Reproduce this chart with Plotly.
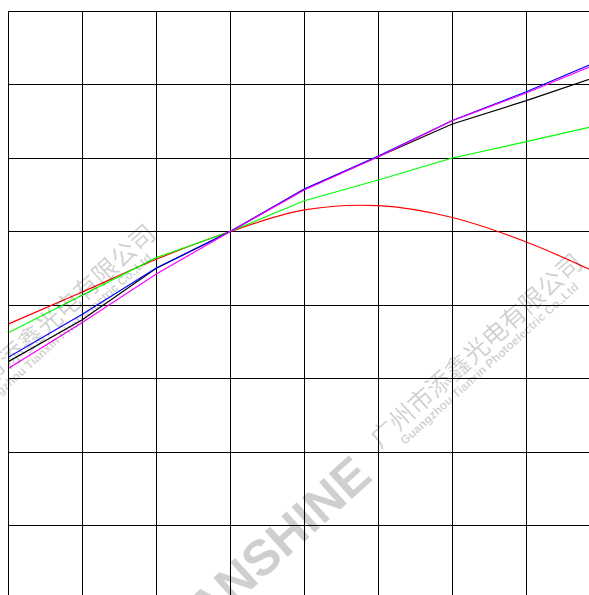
import plotly.graph_objects as go

# grid positions (one unit per grid cell)
x_vals = [0, 1, 2, 3, 4, 5, 6, 7, 8]

red_vals = [3.741, 4.177, 4.622, 5.0, 5.293, 5.351, 5.190, 4.857, 4.417]
green_vals = [3.623, 4.129, 4.644, 5.0, 5.419, 5.701, 6.0, 6.222, 6.453]
black_vals = [3.229, 3.800, 4.499, 5.0, 5.574, 6.018, 6.463, 6.780, 7.122]
blue_vals = [3.288, 3.874, 4.503, 5.0, 5.578, 6.027, 6.510, 6.902, 7.330]
magenta_vals = [3.136, 3.762, 4.422, 5.0, 5.565, 6.018, 6.506, 6.884, 7.300]

W, H = 589, 595
ML, MT = 9, 12    # figure margins (axis lines sit just outside the plot area)
cell_x, cell_y = 74.0, 73.5
grid_x0, grid_y0 = 8.3, 11.0   # page pixel of unit x=0 and unit y=8

plot_left = ML
plot_top = MT
pw, ph = W - ML, H - MT
x0 = (plot_left - grid_x0) / cell_x
y1 = 8 - (plot_top - grid_y0) / cell_y

fig = go.Figure()
series = [
    (red_vals, "#ff0000", "spline"),
    (green_vals, "#00ff00", "linear"),
    (black_vals, "#000000", "linear"),
    (blue_vals, "#0000ff", "linear"),
    (magenta_vals, "#ff00ff", "linear"),
]
for vals, col, shape in series:
    fig.add_trace(go.Scatter(x=x_vals, y=vals, mode="lines",
                             line=dict(color=col, width=1.2, shape=shape),
                             showlegend=False, hoverinfo="skip"))


def px(xp, yp):
    return (xp - plot_left) / pw, 1 - (yp - plot_top) / ph


wm_col = "rgba(0,0,0,0.19)"
angle = -42
annots = []
for cx, cy, ex, ey in [(474.5, 348.5, 489, 364), (47.5, 319.5, 62, 335)]:
    ax, ay = px(cx, cy)
    annots.append(dict(x=ax, y=ay, xref="paper", yref="paper", showarrow=False,
                       xanchor="center", yanchor="middle",
                       text="广州市添鑫光电有限公司", textangle=angle,
                       font=dict(family="Noto Sans CJK SC", size=25, color=wm_col)))
    bx, by = px(ex, ey)
    annots.append(dict(x=bx, y=by, xref="paper", yref="paper", showarrow=False,
                       xanchor="center", yanchor="middle",
                       text="<b>Guangzhou Tianxin Photoelectric Co.,Ltd</b>", textangle=angle,
                       font=dict(family="Liberation Sans", size=12, color=wm_col)))
tx, ty = px(262, 557)
annots.append(dict(x=tx, y=ty, xref="paper", yref="paper", showarrow=False,
                   xanchor="center", yanchor="middle",
                   text="<b>TIANSHINE</b>", textangle=angle,
                   font=dict(family="Liberation Sans", size=50, color=wm_col)))

fig.update_layout(
    width=W, height=H,
    margin=dict(l=ML, r=0, t=MT, b=0, pad=0),
    paper_bgcolor="white", plot_bgcolor="white",
    annotations=annots,
    xaxis=dict(range=[x0, x0 + pw / cell_x], dtick=1, tick0=0, showgrid=True,
               gridcolor="#000000", gridwidth=1, zeroline=False,
               showticklabels=False, ticks="", side="top",
               showline=True, linecolor="#000000", linewidth=1, fixedrange=True),
    yaxis=dict(range=[y1 - ph / cell_y, y1], dtick=1, tick0=0, showgrid=True,
               gridcolor="#000000", gridwidth=1, zeroline=False,
               showticklabels=False, ticks="",
               showline=True, linecolor="#000000", linewidth=1, fixedrange=True),
)

fig.write_html("out.html", config={"displayModeBar": False},
               post_script="document.body.style.margin='0';")
